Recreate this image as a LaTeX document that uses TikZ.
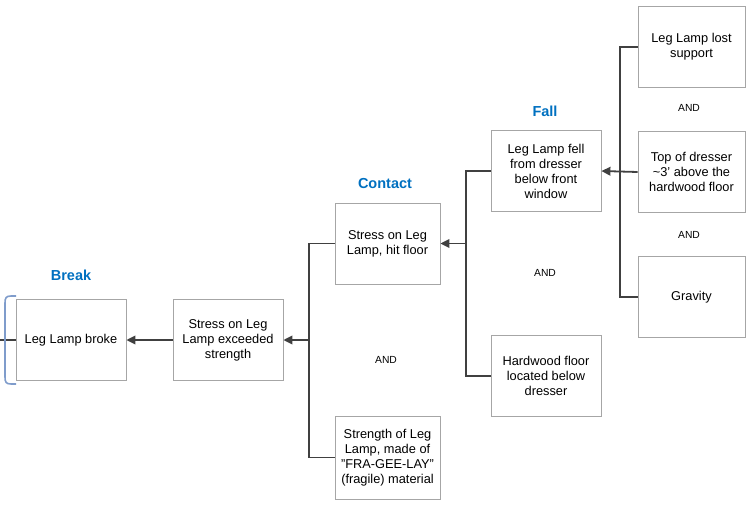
\documentclass[tikz,border=0pt]{standalone}
\usepackage{fontspec}
\setmainfont{Liberation Sans}
\usetikzlibrary{arrows.meta}
\definecolor{boxgray}{HTML}{A6A6A6}
\definecolor{linegray}{HTML}{404040}
\definecolor{hdrblue}{HTML}{0070C0}
\definecolor{brkblue}{HTML}{7F9CCB}
\tikzset{
  cbox/.style={draw=boxgray, line width=0.8pt, minimum width=110pt, minimum height=81pt, align=center, inner sep=0pt, font=\fontsize{12.8}{15}\selectfont},
  hdr/.style={text=hdrblue, font=\fontsize{14.5}{16}\selectfont\bfseries},
  andlbl/.style={font=\fontsize{10.3}{12}\selectfont},
  conn/.style={draw=linegray, line width=1.8pt},
  arr/.style={conn, -{Triangle[length=9pt,width=8.5pt]}},
}
\begin{document}
\begin{tikzpicture}[x=1pt,y=-1pt]
\useasboundingbox (0,0) rectangle (750,506);
% boxes
\node[cbox] (brk) at (71,340) {Leg Lamp broke};
\node[cbox] (sle) at (228,340) {Stress on Leg\\Lamp exceeded\\strength};
\node[cbox, minimum width=105pt] (shf) at (387.5,243.5) {Stress on Leg\\Lamp, hit floor};
\node[cbox, minimum width=105pt, minimum height=83pt] (str) at (387.5,457.5) {Strength of Leg\\Lamp, made of\\"FRA-GEE-LAY"\\(fragile) material};
\node[cbox] (lf) at (546,171) {Leg Lamp fell\\from dresser\\below front\\window};
\node[cbox] (hf) at (546,376) {Hardwood floor\\located below\\dresser};
\node[cbox, minimum width=107pt] (lls) at (691.5,47) {Leg Lamp lost\\support};
\node[cbox, minimum width=107pt] (tod) at (691.5,172) {Top of dresser\\\textasciitilde3' above the\\hardwood floor};
\node[cbox, minimum width=107pt] (grav) at (691.5,297) {Gravity};
% headers
\node[hdr] (hbreak) at (71,275) {Break};
\node[hdr] (hcontact) at (385,184) {Contact};
\node[hdr] (hfall) at (545,111) {Fall};
% AND labels
\node[andlbl] (and1) at (386,360) {AND};
\node[andlbl] (and2) at (545,273) {AND};
\node[andlbl] (and3) at (689,108) {AND};
\node[andlbl] (and4) at (689,235) {AND};
% bus coordinates
\coordinate (bus1) at (309,340);
\coordinate (bus2) at (466,243.5);
\coordinate (bus3) at (620,172);
\coordinate (lend) at (0,340);
% connectors
\draw[arr] (sle.west) -- (brk.east);
\draw[conn] (shf.west) -| (bus1) |- (str.west);
\draw[arr] (bus1) -- (sle.east);
\draw[conn] (lf.west) -| (bus2) |- (hf.west);
\draw[arr] (bus2) -- (shf.east);
\draw[conn] (lls.west) -| (bus3) |- (grav.west);
\draw[arr] (tod.west) -- (lf.east);
\draw[draw=linegray, line width=1.2pt] (brk.west) -- (lend);
% bracket
\draw[brkblue, line width=1.6pt] (16,296) -- (11,296) .. controls (6,296) and (5,298) .. (5,303) -- (5,377) .. controls (5,382) and (6,384) .. (11,384) -- (16,384);
\end{tikzpicture}
\end{document}
